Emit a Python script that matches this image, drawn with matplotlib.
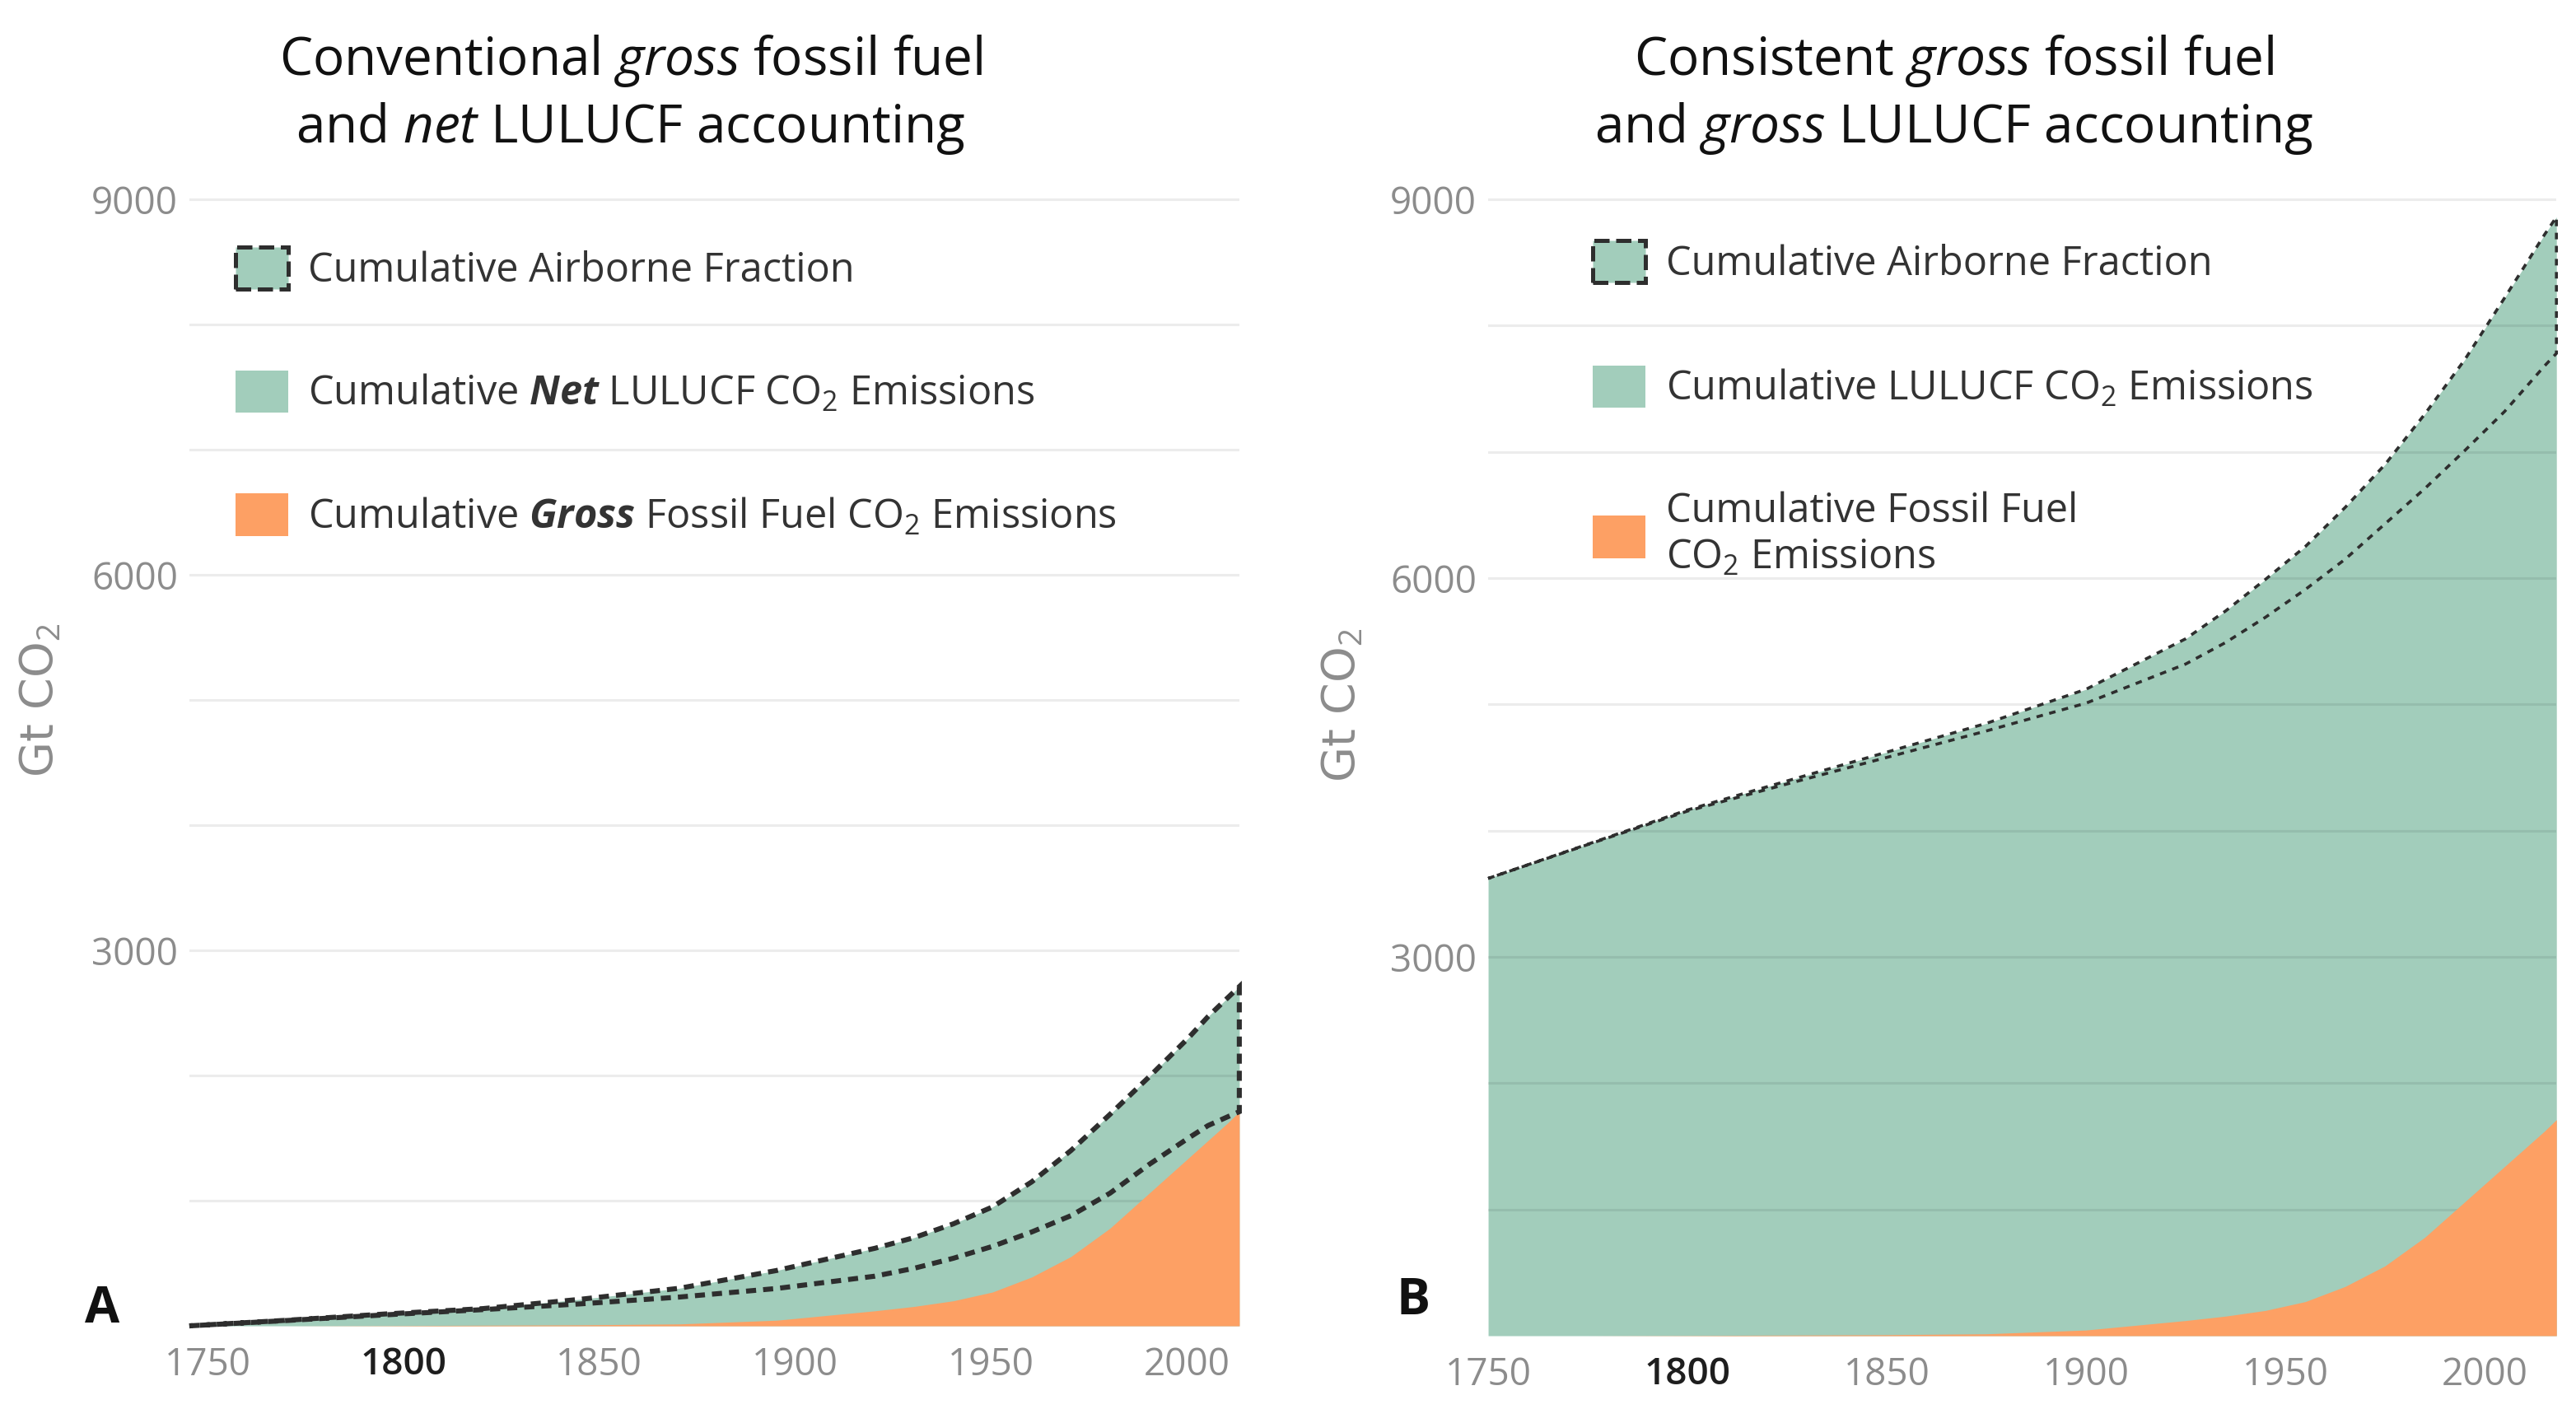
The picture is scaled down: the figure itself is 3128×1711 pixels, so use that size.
import numpy as np
import matplotlib
matplotlib.use("Agg")
import matplotlib.pyplot as plt
import matplotlib.transforms as mtransforms
from matplotlib.patches import Patch

# cumulative values, Gt CO2
years = [1750, 1775, 1800, 1825, 1850, 1875, 1900, 1925, 1935, 1945,
         1955, 1965, 1975, 1985, 1995, 2005, 2010, 2015, 2018]
fossil = [0, 0, 2, 5, 8, 15, 45, 120, 155, 200,
          270, 390, 553, 780, 1060, 1340, 1480, 1620, 1711]
# panel A: fossil + net LULUCF (top) and lower edge of airborne fraction
net_total = [0, 45, 95, 138, 213, 300, 443, 620, 705, 815,
             950, 1150, 1400, 1690, 1990, 2300, 2470, 2620, 2710]
net_af_low = [0, 43, 88, 130, 176, 230, 299, 397, 460, 540,
              635, 750, 880, 1060, 1290, 1500, 1600, 1670, 1711]
# panel B: fossil + gross LULUCF (top) and lower edge of airborne fraction
gross_total = [3622, 3893, 4164, 4394, 4622, 4850, 5120, 5520, 5740, 5990,
               6250, 6560, 6900, 7300, 7730, 8220, 8470, 8720, 8860]
gross_af_low = [3622, 3890, 4155, 4370, 4580, 4790, 5010, 5320, 5490, 5690,
                5910, 6150, 6430, 6710, 7010, 7320, 7500, 7680, 7780]

xticks = [1750, 1800, 1850, 1900, 1950, 2000]
yticks = [3000, 6000, 9000]

GREEN = "#a2cdbb"
ORANGE = "#fda064"
DASH = "#2e2e2e"
TICK = "#8c8c8c"
TEXT = "#333333"

plt.rcParams["font.family"] = ["Open Sans", "DejaVu Sans"]
plt.rcParams["mathtext.fontset"] = "custom"
plt.rcParams["mathtext.rm"] = "Open Sans"
plt.rcParams["mathtext.it"] = "Open Sans:italic"
plt.rcParams["mathtext.bf"] = "Open Sans:bold"
plt.rcParams["mathtext.bfit"] = "Open Sans:italic:bold"

fig = plt.figure(figsize=(15.64, 8.555), dpi=200)
ax1 = fig.add_axes([0.0735, 0.059, 0.4076, 0.804])
ax2 = fig.add_axes([0.5777, 0.052, 0.4147, 0.811])

yrs = np.array(years)


def draw_panel(ax, total, af_low, lw, dashes):
    ax.fill_between(yrs, 0, total, color=GREEN, lw=0, zorder=1)
    ax.fill_between(yrs, 0, fossil, color=ORANGE, lw=0, zorder=3)
    # airborne fraction outline
    ax.fill(np.r_[yrs, yrs[::-1]], np.r_[total, af_low[::-1]],
            fc="none", ec=DASH, lw=lw, ls=(0, dashes), zorder=4, clip_on=False)

    ax.set_xlim(1750, 2018)
    ax.set_ylim(0, 9050)
    ax.set_xticks(xticks)
    ax.set_yticks(yticks)
    ax.set_yticks(range(1000, 9001, 1000), minor=True)
    ax.set_axisbelow(False)
    ax.grid(which="both", axis="y", color="k", alpha=0.075, lw=1.1)
    ax.grid(axis="x", visible=False)
    ax.tick_params(which="both", length=0)
    ax.tick_params(axis="y", labelsize=16.5, labelcolor=TICK, pad=5)
    ax.tick_params(axis="x", labelsize=16.5, labelcolor=TICK, pad=9)
    for lab in ax.get_xticklabels():
        if lab.get_text() == "1800":
            lab.set_color("#1e1e1e")
            lab.set_fontweight("semibold")
    for s in ax.spines.values():
        s.set_visible(False)
    ax.set_ylabel("Gt CO$_2$", fontsize=20, color=TICK, family="DejaVu Sans")


draw_panel(ax1, net_total, net_af_low, 2.2, (2.0, 1.4))
draw_panel(ax2, gross_total, gross_af_low, 1.3, (2.2, 2.2))

ax1.yaxis.set_label_coords(-0.121, 0.5525)
ax2.yaxis.set_label_coords(-0.116, 0.552)

# tick labels in panel A sit a little right of their ticks
shift = mtransforms.ScaledTranslation(0.11, 0, fig.dpi_scale_trans)
for lab in ax1.get_xticklabels():
    lab.set_transform(lab.get_transform() + shift)

af_handle = Patch(facecolor=GREEN, edgecolor=DASH, linestyle="--", linewidth=1.8)
lulucf_handle = Patch(facecolor=GREEN, edgecolor="none")
fossil_handle = Patch(facecolor=ORANGE, edgecolor="none")

leg_kw = dict(loc="upper left", frameon=False, fontsize=17.5, labelcolor=TEXT,
              handlelength=1.32, handleheight=1.25, handletextpad=0.5,
              borderaxespad=0, borderpad=0)
ax1.legend([af_handle, lulucf_handle, fossil_handle],
           ["Cumulative Airborne Fraction",
            r"Cumulative $\mathbfit{Net}$ LULUCF CO$_2$ Emissions",
            r"Cumulative $\mathbfit{Gross}$ Fossil Fuel CO$_2$ Emissions"],
           bbox_to_anchor=(0.044, 0.9525), labelspacing=1.97, **leg_kw)
ax2.legend([af_handle, lulucf_handle, fossil_handle],
           ["Cumulative Airborne Fraction",
            "Cumulative LULUCF CO$_2$ Emissions",
            "Cumulative Fossil Fuel\nCO$_2$ Emissions"],
           bbox_to_anchor=(0.098, 0.9587), labelspacing=2.02, **leg_kw)

title_kw = dict(ha="center", va="center", fontsize=23, linespacing=1.28, color="#111111")
fig.text(383 / 1564, 1 - 57.5 / 855.5,
         "Conventional $\\mathit{gross}$ fossil fuel\nand $\\mathit{net}$ LULUCF accounting",
         **title_kw)
fig.text(1186 / 1564, 1 - 57.5 / 855.5,
         "Consistent $\\mathit{gross}$ fossil fuel\nand $\\mathit{gross}$ LULUCF accounting",
         **title_kw)

fig.text(62 / 1564, 1 - 795 / 855.5, "A", fontsize=22, fontweight="bold",
         ha="center", va="center", color="#111111")
fig.text(858 / 1564, 1 - 790 / 855.5, "B", fontsize=22, fontweight="bold",
         ha="center", va="center", color="#111111")

fig.savefig("out.png", dpi=200, facecolor="white")
